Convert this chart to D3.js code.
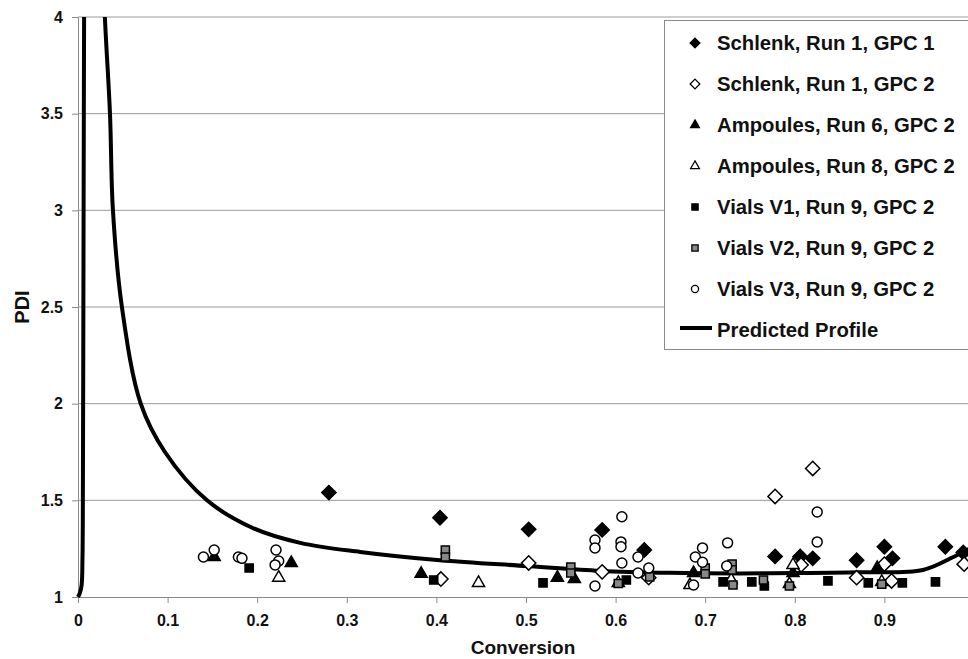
<!DOCTYPE html>
<html><head><meta charset="utf-8">
<script src="https://cdn.jsdelivr.net/npm/d3@7"></script>
<style>
html,body{margin:0;padding:0;background:#fff;}
svg{display:block;font-family:"Liberation Sans",Arial,sans-serif;font-weight:bold;}
</style></head><body>
<svg id="c" width="968" height="659"></svg>
<script>
// ---------------- data ----------------
const xTicks = [0,0.1,0.2,0.3,0.4,0.5,0.6,0.7,0.8,0.9,1];
const xTickLabels = ["0","0.1","0.2","0.3","0.4","0.5","0.6","0.7","0.8","0.9",""];
const yTicks = [1,1.5,2,2.5,3,3.5,4];
const seriesNames = ["Schlenk, Run 1, GPC 1","Schlenk, Run 1, GPC 2","Ampoules, Run 6, GPC 2","Ampoules, Run 8, GPC 2","Vials V1, Run 9, GPC 2","Vials V2, Run 9, GPC 2","Vials V3, Run 9, GPC 2","Predicted Profile"];

const schlenkGPC1 = [[0.280,1.54],[0.404,1.41],[0.503,1.35],[0.585,1.347],[0.632,1.243],[0.778,1.21],[0.806,1.21],[0.820,1.20],[0.869,1.19],[0.900,1.26],[0.909,1.20],[0.968,1.26],[0.988,1.23]];
const schlenkGPC2 = [[0.405,1.093],[0.503,1.176],[0.585,1.13],[0.637,1.10],[0.778,1.52],[0.820,1.665],[0.807,1.166],[0.869,1.10],[0.900,1.17],[0.908,1.083],[0.989,1.17]];
const ampoulesRun6 = [[0.152,1.207],[0.238,1.176],[0.383,1.12],[0.535,1.10],[0.554,1.093],[0.687,1.124],[0.798,1.124],[0.892,1.15]];
const ampoulesRun8 = [[0.224,1.10],[0.447,1.073],[0.603,1.073],[0.683,1.062],[0.729,1.088],[0.794,1.067],[0.798,1.166],[0.897,1.078]];
const vialsV1 = [[0.191,1.15],[0.397,1.088],[0.519,1.073],[0.612,1.088],[0.720,1.078],[0.752,1.078],[0.766,1.057],[0.837,1.083],[0.882,1.073],[0.920,1.073],[0.957,1.078]];
const vialsV2 = [[0.410,1.243],[0.410,1.207],[0.550,1.155],[0.550,1.124],[0.603,1.070],[0.700,1.150],[0.700,1.120],[0.730,1.170],[0.730,1.140],[0.731,1.062],[0.765,1.088],[0.794,1.057],[0.897,1.067],[0.638,1.104]];
const vialsV3 = [[0.140,1.207],[0.152,1.243],[0.179,1.207],[0.183,1.200],[0.221,1.243],[0.224,1.186],[0.220,1.166],[0.577,1.295],[0.577,1.254],[0.577,1.057],[0.607,1.415],[0.606,1.285],[0.606,1.260],[0.607,1.176],[0.625,1.207],[0.625,1.124],[0.637,1.150],[0.689,1.207],[0.697,1.254],[0.697,1.180],[0.725,1.280],[0.724,1.160],[0.687,1.062],[0.825,1.44],[0.825,1.285]];

const predictedLeft = [[0,1.0],[0.002,1.02],[0.004,1.06],[0.005,1.2],[0.0055,1.6],[0.006,2.5],[0.0065,3.5],[0.007,4.3]];
const predictedRight = [[0.028,4.3],[0.030,4.0],[0.0357,3.5],[0.039,3.0],[0.049,2.5],[0.070,2.0],[0.097,1.75],[0.144,1.5],[0.195,1.357],[0.248,1.28],[0.315,1.233],[0.404,1.19],[0.501,1.16],[0.583,1.135],[0.660,1.125],[0.739,1.122],[0.800,1.124],[0.870,1.128],[0.943,1.14],[0.977,1.207],[0.995,1.25]];

// ---------------- layout ----------------
const svg = d3.select("#c");
const x = d3.scaleLinear().domain([0,1]).range([78,974]);
const y = d3.scaleLinear().domain([1,4]).range([597,17]);

// gridlines
svg.append("g").selectAll("line").data(yTicks.filter(d=>d>1)).join("line")
  .attr("x1",78).attr("x2",968).attr("y1",d=>y(d)).attr("y2",d=>y(d))
  .attr("stroke","#9a9a9a").attr("stroke-width",1);

// axes
const xAxis = d3.axisBottom(x).tickValues(xTicks).tickSize(6).tickPadding(12).tickFormat((d,i)=>xTickLabels[i]);
const gx = svg.append("g").attr("transform","translate(0,597)").call(xAxis);
const yAxis = d3.axisLeft(y).tickValues(yTicks).tickSize(6).tickPadding(9).tickFormat(d3.format("~g"));
const gy = svg.append("g").attr("transform","translate(78,0)").call(yAxis);
[gx,gy].forEach(g=>{
  g.select(".domain").attr("stroke","#8a8a8a");
  g.selectAll(".tick line").attr("stroke","#8a8a8a");
  g.selectAll("text").attr("font-family","Liberation Sans, Arial, sans-serif").attr("font-weight","bold").attr("font-size",16).attr("fill","#111");
});

// axis titles
svg.append("text").attr("x",523).attr("y",654).attr("text-anchor","middle").attr("font-size",19).attr("fill","#111").text("Conversion");
svg.append("text").attr("transform","translate(29,307) rotate(-90)").attr("text-anchor","middle").attr("font-size",20).attr("fill","#111").text("PDI");

// clip
svg.append("clipPath").attr("id","pc").append("rect").attr("x",70).attr("y",17).attr("width",900).attr("height",590);

// predicted profile
const line2 = d3.line().x(d=>x(d[0])).y(d=>y(d[1])).curve(d3.curveCatmullRom);
const gp = svg.append("g").attr("clip-path","url(#pc)");
gp.append("path").attr("d",line2(predictedLeft)).attr("fill","none").attr("stroke","#000").attr("stroke-width",4);
gp.append("path").attr("d",line2(predictedRight)).attr("fill","none").attr("stroke","#000").attr("stroke-width",4);

// markers
const sym = {
  diamond: d3.symbol().type(d3.symbolDiamond2),
  triangle: d3.symbol().type(d3.symbolTriangle2),
  square: d3.symbol().type(d3.symbolSquare2),
  circle: d3.symbol().type(d3.symbolCircle)
};
const styles = [
  {data:schlenkGPC1, type:"diamond", fill:"#000", size:130, lsize:60},
  {data:schlenkGPC2, type:"diamond", fill:"#fff", size:130, lsize:60},
  {data:ampoulesRun6, type:"triangle", fill:"#000", size:105, lsize:55},
  {data:ampoulesRun8, type:"triangle", fill:"#fff", size:105, lsize:55},
  {data:vialsV1, type:"square", fill:"#000", size:85, lsize:50},
  {data:vialsV2, type:"square", fill:"#888", size:85, lsize:50},
  {data:vialsV3, type:"circle", fill:"#fff", size:78, lsize:40}
];
const gm = svg.append("g");
styles.forEach(s=>{
  gm.append("g").selectAll("path").data(s.data).join("path")
    .attr("transform",d=>`translate(${x(d[0])},${y(d[1])})`)
    .attr("d",sym[s.type].size(s.size)())
    .attr("fill",s.fill).attr("stroke","#000").attr("stroke-width",1.5);
});

// legend
const lg = svg.append("g");
lg.append("rect").attr("x",664.5).attr("y",20.5).attr("width",320).attr("height",329)
  .attr("fill","#fff").attr("stroke","#8a8a8a").attr("stroke-width",1);
const rowY = [43,84,125,166,207,248,289,330];
styles.forEach((s,i)=>{
  lg.append("path").attr("transform",`translate(695,${rowY[i]})`)
    .attr("d",sym[s.type].size(s.lsize)())
    .attr("fill",s.fill).attr("stroke","#000").attr("stroke-width",1.3);
});
lg.append("line").attr("x1",680).attr("x2",712).attr("y1",rowY[7]-2).attr("y2",rowY[7]-2).attr("stroke","#000").attr("stroke-width",4);
lg.selectAll("text.l").data(seriesNames).join("text").attr("class","l")
  .attr("x",717).attr("y",(d,i)=>rowY[i]+7).attr("font-size",20.3).attr("fill","#111").text(d=>d);
</script></body></html>
